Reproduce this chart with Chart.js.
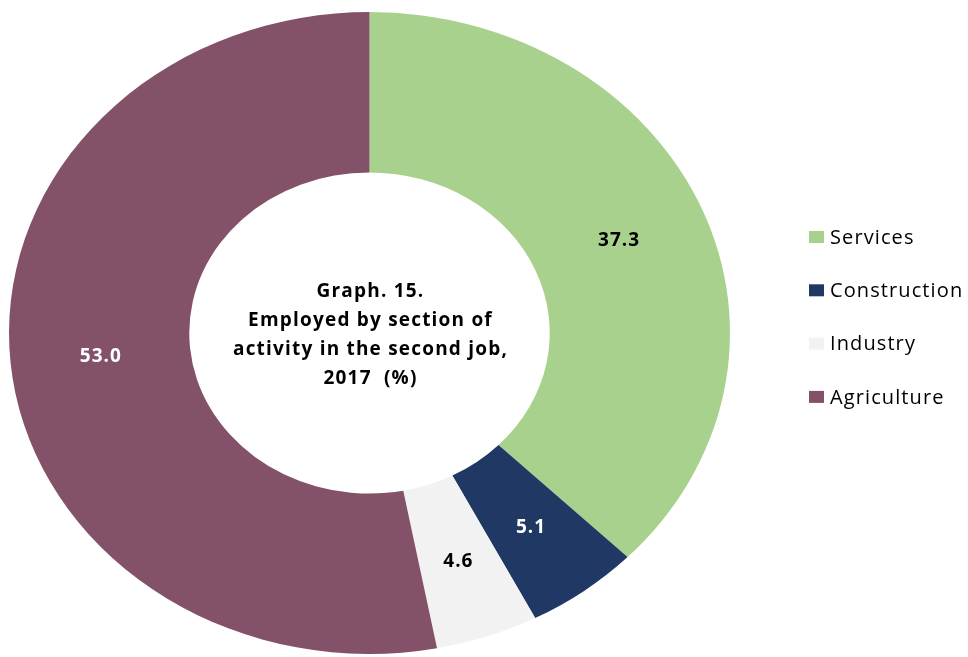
<!DOCTYPE html>
<html>
<head>
<meta charset="utf-8">
<script src="https://cdn.jsdelivr.net/npm/chart.js@4"></script>
<style>
  html, body { margin: 0; padding: 0; background: #fff; }
  #wrap { width: 968px; height: 657px; position: relative; }
</style>
</head>
<body>
<div id="wrap"><canvas id="myChart"></canvas></div>
<script>
var categories = ['Services', 'Construction', 'Industry', 'Agriculture'];
var shares = [37.3, 5.1, 4.6, 53.0];
var titleLines = ['Graph. 15.', 'Employed by section of', 'activity in the second job,', '2017  (%)'];

var sliceColors = ['#A9D18E', '#203864', '#F2F2F2', '#835268'];
var labelColors = ['#000000', '#ffffff', '#000000', '#ffffff'];
var stretchX = 1.123; // the ring is wider than tall

var myChart;

// squash the round doughnut into the ellipse of the original
var ellipsePlugin = {
  id: 'ellipse',
  beforeDatasetsDraw: function(chart) {
    var ctx = chart.ctx;
    var arc = chart.getDatasetMeta(0).data[0];
    ctx.save();
    ctx.translate(arc.x, arc.y);
    ctx.scale(stretchX, 1);
    ctx.translate(-arc.x, -arc.y);
  },
  afterDatasetsDraw: function(chart) {
    chart.ctx.restore();
  }
};

var textPlugin = {
  id: 'texts',
  afterDraw: function(chart) {
    var ctx = chart.ctx;
    var meta = chart.getDatasetMeta(0);
    var ds = chart.data.datasets[0];

    // value labels in the middle of each slice
    ctx.save();
    ctx.font = 'bold 19px "Open Sans", sans-serif';
    ctx.letterSpacing = '1px';
    ctx.textAlign = 'center';
    ctx.textBaseline = 'middle';
    meta.data.forEach(function(arc, i) {
      var mid = (arc.startAngle + arc.endAngle) / 2;
      var r = (arc.innerRadius + arc.outerRadius) / 2;
      var x = arc.x + stretchX * r * Math.cos(mid);
      var y = arc.y + r * Math.sin(mid);
      ctx.fillStyle = labelColors[i];
      ctx.fillText(ds.data[i].toFixed(1), x + 0.5, y + 1);
    });

    // title in the hole
    var c = meta.data[0];
    ctx.fillStyle = '#000';
    ctx.font = 'bold 19px "Open Sans", sans-serif';
    ctx.letterSpacing = '1.2px';
    var lh = 29;
    var y0 = c.y - lh * (titleLines.length - 1) / 2 + 2.5;
    titleLines.forEach(function(t, k) {
      ctx.fillText(t, c.x + 1, y0 + k * lh);
    });

    // legend on the right
    ctx.textAlign = 'left';
    ctx.font = '20px "Open Sans", sans-serif';
    ctx.letterSpacing = '1.1px';
    chart.data.labels.forEach(function(lab, i) {
      var ly = 237 + i * 53.3;
      ctx.fillStyle = ds.backgroundColor[i];
      ctx.fillRect(809, ly - 6, 15, 12);
      ctx.fillStyle = '#000';
      ctx.fillText(lab, 830, ly + 1);
    });
    ctx.restore();
  }
};

var config = {
  type: 'doughnut',
  data: {
    labels: categories,
    datasets: [{
      data: shares,
      backgroundColor: sliceColors,
      borderWidth: 0,
      hoverOffset: 0
    }]
  },
  options: {
    responsive: true,
    maintainAspectRatio: false,
    animation: false,
    events: [],
    cutout: '50%',
    layout: {
      padding: { top: 12, bottom: 3, left: 48.5, right: 277.5 }
    },
    plugins: {
      legend: { display: false },
      tooltip: { enabled: false }
    }
  },
  plugins: [ellipsePlugin, textPlugin]
};

myChart = new Chart(document.getElementById('myChart'), config);
</script>
</body>
</html>
